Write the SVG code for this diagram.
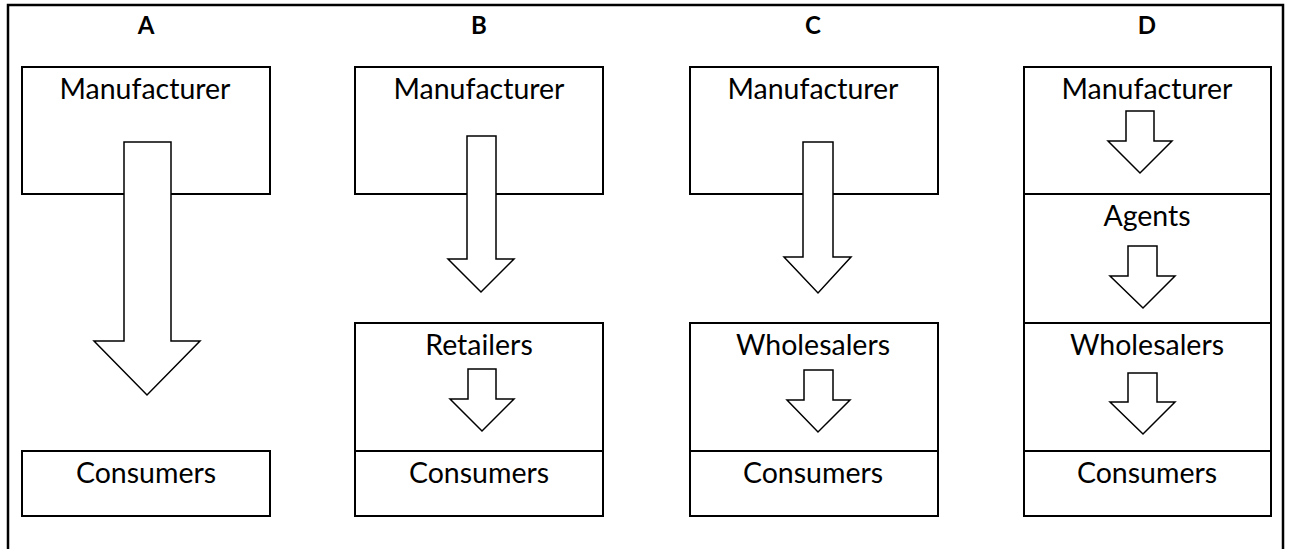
<svg xmlns="http://www.w3.org/2000/svg" width="1289" height="549" viewBox="0 0 1289 549">
<style>
.frame{fill:none;stroke:#000;stroke-width:2.5}
.box{fill:#fff;stroke:#000;stroke-width:2}
.arr{fill:#fff;stroke:#000;stroke-width:1.5;stroke-linejoin:miter}
.t{font-family:Lato,"Open Sans",sans-serif;font-size:28.5px;fill:#000;text-anchor:middle}
.h{font-family:Lato,"Open Sans",sans-serif;font-size:24px;font-weight:bold;fill:#000;text-anchor:middle}
</style>
<rect width="1289" height="549" fill="#fff"/>
<path class="frame" d="M8,560 V5 H1283 V560"/>
<g id="titles">
<text class="h" x="146" y="34">A</text>
<text class="h" x="479" y="34">B</text>
<text class="h" x="813" y="34">C</text>
<text class="h" x="1147" y="34">D</text>
</g>
<!-- Panel A -->
<g id="A-manufacturer"><rect class="box" x="22" y="67" width="248" height="127"/><text class="t" x="145" y="99">Manufacturer</text></g>
<g id="A-consumers"><rect class="box" x="22" y="451" width="248" height="65"/><text class="t" x="146" y="483">Consumers</text></g>
<!-- Panel B -->
<g id="B-manufacturer"><rect class="box" x="355" y="67" width="248" height="127"/><text class="t" x="479" y="99">Manufacturer</text></g>
<g id="B-retailers"><rect class="box" x="355" y="323" width="248" height="128"/><text class="t" x="479" y="355">Retailers</text></g>
<g id="B-consumers"><rect class="box" x="355" y="451" width="248" height="65"/><text class="t" x="479" y="483">Consumers</text></g>
<!-- Panel C -->
<g id="C-manufacturer"><rect class="box" x="690" y="67" width="248" height="127"/><text class="t" x="813" y="99">Manufacturer</text></g>
<g id="C-wholesalers"><rect class="box" x="690" y="323" width="248" height="128"/><text class="t" x="813" y="355">Wholesalers</text></g>
<g id="C-consumers"><rect class="box" x="690" y="451" width="248" height="65"/><text class="t" x="813" y="483">Consumers</text></g>
<!-- Panel D -->
<g id="D-manufacturer"><rect class="box" x="1024" y="67" width="247" height="127"/><text class="t" x="1147" y="99">Manufacturer</text></g>
<g id="D-agents"><rect class="box" x="1024" y="194" width="247" height="129"/><text class="t" x="1147" y="226">Agents</text></g>
<g id="D-wholesalers"><rect class="box" x="1024" y="323" width="247" height="128"/><text class="t" x="1147" y="355">Wholesalers</text></g>
<g id="D-consumers"><rect class="box" x="1024" y="451" width="247" height="65"/><text class="t" x="1147" y="483">Consumers</text></g>
<g id="connectors">
<path class="arr" d="M124,142 H171 V341 H200 L147,395 L94,341 H124 Z"/>
<path class="arr" d="M467,136 H496 V259 H514 L481,292 L448,259 H467 Z"/>
<path class="arr" d="M468,369 H496 V399 H514 L482,431 L450,399 H468 Z"/>
<path class="arr" d="M803,142 H833 V257 H851 L818,293 L784,257 H803 Z"/>
<path class="arr" d="M804,370 H833 V400 H850 L818,432 L787,400 H804 Z"/>
<path class="arr" d="M1126,111 H1154 V141 H1172 L1140,173 L1108,141 H1126 Z"/>
<path class="arr" d="M1128,246 H1157 V276 H1175 L1143,308 L1110,276 H1128 Z"/>
<path class="arr" d="M1128,373 H1157 V402 H1175 L1143,434 L1110,402 H1128 Z"/>
</g>
</svg>
